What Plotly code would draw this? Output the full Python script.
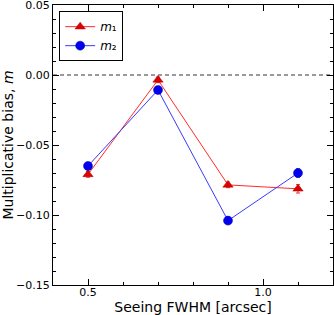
import plotly.graph_objects as go

seeing = [0.5, 0.7, 0.9, 1.1]
m1 = [-0.071, -0.0035, -0.0785, -0.0813]
m1_err = [0.002, 0.002, 0.002, 0.003]
m2 = [-0.065, -0.0107, -0.104, -0.070]
m2_err = [0.002, 0.002, 0.002, 0.003]

fig = go.Figure()
fig.add_trace(go.Scatter(
    x=seeing, y=m1, name="<i>m</i>\u2081", mode="lines+markers",
    line=dict(color="#ff2a2a", width=1),
    marker=dict(symbol="triangle-up", size=9, color="#dd0000", line=dict(width=0.5, color="#aa0000")),
    error_y=dict(type="data", array=m1_err, color="#ff2a2a", thickness=1, width=2),
))
fig.add_trace(go.Scatter(
    x=seeing, y=m2, name="<i>m</i>\u2082", mode="lines+markers",
    line=dict(color="#3a3aff", width=1),
    marker=dict(symbol="circle", size=9, color="#0000ee", line=dict(width=0.5, color="#0000aa")),
    error_y=dict(type="data", array=m2_err, color="#3a3aff", thickness=1, width=2),
))

fig.add_shape(type="line", xref="paper", x0=0, x1=1, yref="y", y0=0, y1=0,
              line=dict(color="black", width=0.8, dash="4px,3px"), layer="below")

axis_common = dict(showgrid=False, zeroline=False, showline=True, linecolor="black",
                   linewidth=1, mirror="ticks", ticks="inside", tickcolor="black",
                   tickfont=dict(size=11, color="black"), automargin=False,
                   ticklabeloverflow="allow")

fig.update_xaxes(range=[0.4, 1.2], tickvals=[0.5, 1.0], ticktext=["0.5", "1.0"], ticklen=6,
                 minor=dict(dtick=0.1, tick0=0.4, ticks="inside", ticklen=3, tickcolor="black"),
                 ticklabelstandoff=-3,
                 title=dict(text="Seeing FWHM [arcsec]", font=dict(size=14, color="black"), standoff=2),
                 **axis_common)
fig.update_yaxes(range=[-0.15, 0.05], tickvals=[-0.15, -0.10, -0.05, 0.0, 0.05],
                 ticktext=["\u22120.15", "\u22120.10", "\u22120.05", "0.00", "0.05"], ticklen=6,
                 minor=dict(dtick=0.01, tick0=0, ticks="inside", ticklen=3, tickcolor="black"),
                 title=dict(text="Multiplicative bias, <i>m</i>", font=dict(size=14, color="black"), standoff=4),
                 **axis_common)

fig.update_layout(
    width=334, height=315,
    margin=dict(l=53, r=1, t=5, b=30, autoexpand=False),
    paper_bgcolor="white", plot_bgcolor="white",
    font=dict(family="DejaVu Sans", color="black"),
    legend=dict(x=0.022, y=0.978, xanchor="left", yanchor="top", bordercolor="black",
                borderwidth=1, bgcolor="white", font=dict(size=12), tracegroupgap=0,
                itemwidth=30),
    showlegend=True,
)

fig.write_html("out.html", config={"displayModeBar": False},
               post_script="document.body.style.margin='0';document.body.style.overflow='hidden';")
